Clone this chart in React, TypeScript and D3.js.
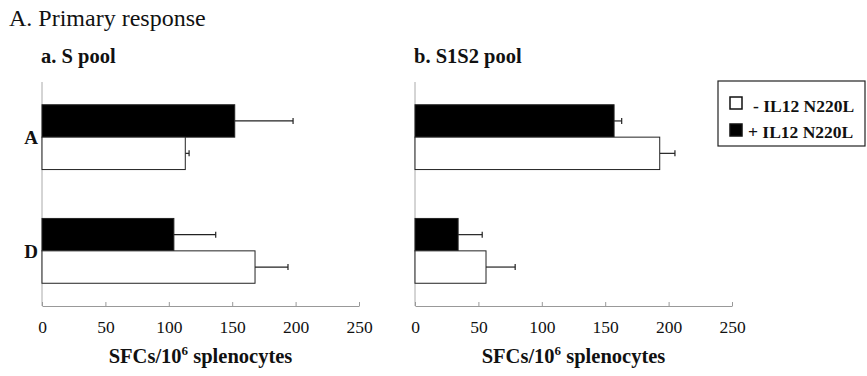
import React, { useEffect, useRef } from 'react';
import * as d3 from 'd3';

// groups on the vertical axis
const categories = ['A', 'D'];
const seriesKeys = ['plus', 'minus'];
const legendLabels = ['- IL12 N220L', '+ IL12 N220L'];
const xTicks = [0, 50, 100, 150, 200, 250];

// a. S pool
const sPoolMinus = [113, 168];
const sPoolMinusErr = [3, 26];
const sPoolPlus = [152, 104];
const sPoolPlusErr = [46, 33];

// b. S1S2 pool
const s1s2Minus = [193, 56];
const s1s2MinusErr = [12, 23];
const s1s2Plus = [157, 34];
const s1s2PlusErr = [6, 19];

const panels = [
  { title: 'a. S pool', left: 42, minus: sPoolMinus, minusErr: sPoolMinusErr, plus: sPoolPlus, plusErr: sPoolPlusErr, showCats: true },
  { title: 'b. S1S2 pool', left: 415, minus: s1s2Minus, minusErr: s1s2MinusErr, plus: s1s2Plus, plusErr: s1s2PlusErr, showCats: false },
];

const SERIF = '"Liberation Serif", "Times New Roman", serif';
const W = 867;
const H = 376;
const PLOT_W = 317;
const TOP = 82;
const BOTTOM = 306;

const App: React.FC = () => {
  const svgRef = useRef<SVGSVGElement | null>(null);

  useEffect(() => {
    if (!svgRef.current) return;
    const svg = d3.select(svgRef.current);
    svg.selectAll('*').remove();

    svg.append('text')
      .attr('x', 9)
      .attr('y', 26)
      .attr('font-family', SERIF)
      .attr('font-size', 24)
      .attr('fill', '#111')
      .text('A. Primary response');

    const y0 = d3.scaleBand<string>()
      .domain(categories)
      .range([TOP, BOTTOM])
      .paddingInner(0.43)
      .paddingOuter(0.2);
    const y1 = d3.scaleBand<string>()
      .domain(seriesKeys)
      .range([0, y0.bandwidth()]);

    panels.forEach(p => {
      const x = d3.scaleLinear().domain([0, 250]).range([p.left, p.left + PLOT_W]);
      const g = svg.append('g');

      g.append('text')
        .attr('x', p.left - 1)
        .attr('y', 63)
        .attr('font-family', SERIF)
        .attr('font-weight', 'bold')
        .attr('font-size', 20.5)
        .attr('fill', '#111')
        .text(p.title);

      // vertical axis line
      g.append('line')
        .attr('x1', x(0)).attr('x2', x(0))
        .attr('y1', TOP).attr('y2', BOTTOM)
        .attr('stroke', '#aaa')
        .attr('stroke-width', 1);

      const axis = g.append('g')
        .attr('transform', `translate(0, ${BOTTOM})`)
        .call(d3.axisBottom(x).tickValues(xTicks).tickSizeInner(-4).tickSizeOuter(0).tickPadding(15));
      axis.select('.domain').attr('stroke', '#999');
      axis.selectAll('.tick line').attr('stroke', '#999');
      axis.selectAll('.tick text')
        .attr('font-family', SERIF)
        .attr('font-size', 17.5)
        .attr('fill', '#111');

      g.append('text')
        .attr('x', (x(0) + x(250)) / 2)
        .attr('y', 363)
        .attr('text-anchor', 'middle')
        .attr('font-family', SERIF)
        .attr('font-weight', 'bold')
        .attr('font-size', 20.5)
        .attr('fill', '#111')
        .call(t => {
          t.append('tspan').text('SFCs/10');
          t.append('tspan').attr('font-size', 13).attr('dy', -8).text('6');
          t.append('tspan').attr('dy', 8).text(' splenocytes');
        });

      categories.forEach((cat, i) => {
        const rows = [
          { key: 'plus', v: p.plus[i], e: p.plusErr[i], fill: '#000' },
          { key: 'minus', v: p.minus[i], e: p.minusErr[i], fill: '#fff' },
        ];
        rows.forEach(r => {
          const top = y0(cat)! + y1(r.key)!;
          const h = y1.bandwidth();
          const cy = top + h / 2;
          g.append('line')
            .attr('x1', x(r.v)).attr('x2', x(r.v + r.e))
            .attr('y1', cy).attr('y2', cy)
            .attr('stroke', '#222').attr('stroke-width', 1.2);
          g.append('line')
            .attr('x1', x(r.v + r.e)).attr('x2', x(r.v + r.e))
            .attr('y1', cy - 3).attr('y2', cy + 3)
            .attr('stroke', '#222').attr('stroke-width', 1.2);
          g.append('rect')
            .attr('x', x(0))
            .attr('y', top)
            .attr('width', x(r.v) - x(0))
            .attr('height', h)
            .attr('fill', r.fill)
            .attr('stroke', '#222')
            .attr('stroke-width', 1);
        });
        if (p.showCats) {
          g.append('text')
            .attr('x', 31)
            .attr('y', y0(cat)! + y0.bandwidth() / 2 + 7)
            .attr('text-anchor', 'middle')
            .attr('font-family', SERIF)
            .attr('font-weight', 'bold')
            .attr('font-size', 19)
            .attr('fill', '#111')
            .text(cat);
        }
      });
    });

    // legend
    const lg = svg.append('g').attr('transform', 'translate(718, 81)');
    lg.append('rect')
      .attr('width', 147).attr('height', 65)
      .attr('fill', '#fff').attr('stroke', '#222').attr('stroke-width', 1.2);
    legendLabels.forEach((lab, i) => {
      lg.append('rect')
        .attr('x', 12).attr('y', 16 + i * 27)
        .attr('width', 12).attr('height', 12)
        .attr('fill', i === 0 ? '#fff' : '#000')
        .attr('stroke', '#111').attr('stroke-width', 1.5);
      lg.append('text')
        .attr('x', i === 0 ? 35 : 30)
        .attr('y', 31 + i * 26)
        .attr('font-family', SERIF)
        .attr('font-weight', 'bold')
        .attr('font-size', 17.5)
        .attr('fill', '#111')
        .text(lab);
    });
  }, []);

  return (
    <svg
      ref={svgRef}
      width={W}
      height={H}
      style={{ position: 'absolute', left: 0, top: 0, background: '#fff' }}
    />
  );
};

export default App;
